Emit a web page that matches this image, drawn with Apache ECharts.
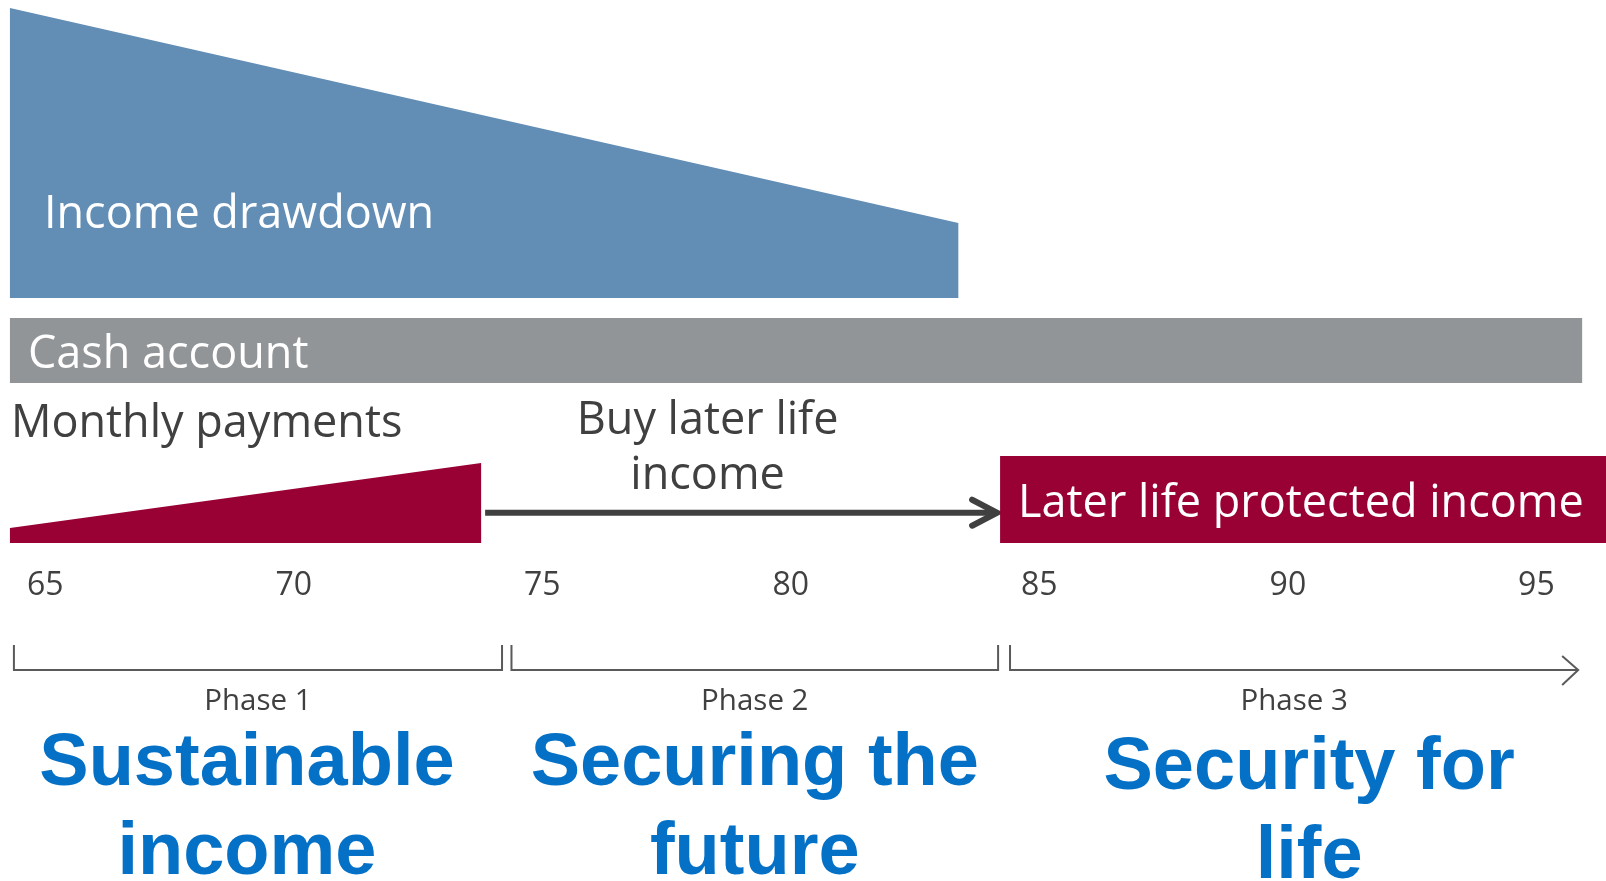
<!DOCTYPE html>
<html><head><meta charset="utf-8">
<script src="https://cdn.jsdelivr.net/npm/echarts@6/dist/echarts.min.js"></script>
<style>html,body{margin:0;padding:0;background:#fff}#c{width:1606px;height:881px}</style>
</head><body><div id="c"></div>
<script>
// ---- data (ages on the horizontal axis, relative levels on the vertical) ----
const ageTicks = [65, 70, 75, 80, 85, 90, 95];
const axisRange = [64.09, 96.40];
const drawdownAges = [64.29, 83.37];
const drawdownLevels = [100, 25.9];
const cashAges = [64.29, 95.92];
const paymentAges = [64.29, 73.77];
const paymentLevels = [17.2, 92];
const buyArrowAges = [73.85, 84.17];
const buyArrowLevel = 34.8;
const protectedAges = [84.21, 96.6];
const phaseStarts = [64.37, 74.38, 84.41];
const phaseEnds = [74.19, 84.17, 95.84];
const phaseNames = ['Phase 1', 'Phase 2', 'Phase 3'];
const phaseTitles = [['Sustainable', 'income'], ['Securing the', 'future'], ['Security for', 'life']];

const DARK = '#404040';
const BODY = '"Open Sans", "Noto Sans", sans-serif';
const BOLD = '"Liberation Sans", Arial, sans-serif';
const BIG = '45px ' + BODY;

const chart = echarts.init(document.getElementById('c'), null, {renderer: 'canvas'});

function xAxisBase(gi) {
  return {type: 'value', gridIndex: gi, min: axisRange[0], max: axisRange[1], show: false};
}
function yAxisBase(gi, max) {
  return {type: 'value', gridIndex: gi, min: 0, max: max, show: false};
}

const xAxes = [xAxisBase(0), xAxisBase(1), xAxisBase(2), xAxisBase(3)];
xAxes[2] = {
  type: 'value', gridIndex: 2, min: axisRange[0], max: axisRange[1], show: true,
  axisLine: {show: false}, axisTick: {show: false}, splitLine: {show: false},
  axisLabel: {
    customValues: ageTicks, margin: 27, color: DARK, fontSize: 32, lineHeight: 32,
    fontFamily: BODY, showMinLabel: true, showMaxLabel: true
  }
};

const option = {
  backgroundColor: '#ffffff',
  animation: false,
  grid: [
    {left: 0, right: 0, top: 8, height: 290},
    {left: 0, right: 0, top: 318, height: 65},
    {left: 0, right: 0, top: 456, height: 87},
    {left: 0, right: 0, top: 645, height: 25}
  ],
  xAxis: xAxes,
  yAxis: [yAxisBase(0, 100), yAxisBase(1, 1), yAxisBase(2, 100), yAxisBase(3, 1)],
  series: [
    // Income drawdown wedge
    {
      type: 'custom', xAxisIndex: 0, yAxisIndex: 0, silent: true,
      data: [[drawdownAges[0], drawdownLevels[0], drawdownAges[1], drawdownLevels[1]]],
      encode: {x: [0, 2], y: [1, 3]},
      renderItem: function (params, api) {
        const a0 = api.value(0), l0 = api.value(1), a1 = api.value(2), l1 = api.value(3);
        const pA = api.coord([a0, 0]), pB = api.coord([a0, l0]), pC = api.coord([a1, l1]), pD = api.coord([a1, 0]);
        return {type: 'group', children: [
          {type: 'polygon', shape: {points: [pA, pB, pC, pD]}, style: {fill: '#628db5'}},
          {type: 'text', x: pA[0] + 34, y: pA[1] - 82.5,
           style: {text: 'Income drawdown', fill: '#ffffff', font: BIG, verticalAlign: 'middle'}}
        ]};
      }
    },
    // Cash account bar
    {
      type: 'custom', xAxisIndex: 1, yAxisIndex: 1, silent: true,
      data: [[cashAges[0], cashAges[1]]],
      encode: {x: [0, 1]},
      renderItem: function (params, api) {
        const p0 = api.coord([api.value(0), 1]), p1 = api.coord([api.value(1), 0]);
        return {type: 'group', children: [
          {type: 'rect', shape: {x: p0[0], y: p0[1], width: p1[0] - p0[0], height: p1[1] - p0[1]}, style: {fill: '#919598'}},
          {type: 'text', x: p0[0] + 18, y: p1[1] - 28,
           style: {text: 'Cash account', fill: '#ffffff', font: BIG, verticalAlign: 'middle'}}
        ]};
      }
    },
    // Monthly payments wedge
    {
      type: 'custom', xAxisIndex: 2, yAxisIndex: 2, silent: true,
      data: [[paymentAges[0], paymentLevels[0], paymentAges[1], paymentLevels[1]]],
      encode: {x: [0, 2], y: [1, 3]},
      renderItem: function (params, api) {
        const a0 = api.value(0), l0 = api.value(1), a1 = api.value(2), l1 = api.value(3);
        const pA = api.coord([a0, 0]), pB = api.coord([a0, l0]), pC = api.coord([a1, l1]), pD = api.coord([a1, 0]);
        return {type: 'group', children: [
          {type: 'polygon', shape: {points: [pA, pB, pC, pD]}, style: {fill: '#990033'}},
          {type: 'text', x: pA[0] + 1, y: pA[1] - 119,
           style: {text: 'Monthly payments', fill: DARK, font: BIG, verticalAlign: 'middle'}}
        ]};
      }
    },
    // Buy later life income arrow
    {
      type: 'custom', xAxisIndex: 2, yAxisIndex: 2, silent: true,
      data: [[buyArrowAges[0], buyArrowLevel, buyArrowAges[1]]],
      encode: {x: [0, 2], y: 1},
      renderItem: function (params, api) {
        const p0 = api.coord([api.value(0), api.value(1)]);
        const p1 = api.coord([api.value(2), api.value(1)]);
        const mid = (p0[0] + p1[0]) / 2 - 34;
        return {type: 'group', children: [
          {type: 'line', shape: {x1: p0[0], y1: p0[1], x2: p1[0] - 3, y2: p1[1]},
           style: {stroke: DARK, lineWidth: 6}},
          {type: 'polyline', shape: {points: [[p1[0] - 26, p1[1] - 13], [p1[0] - 1, p1[1]], [p1[0] - 26, p1[1] + 13]]},
           style: {stroke: DARK, lineWidth: 6, fill: null, lineCap: 'round', lineJoin: 'miter'}},
          {type: 'text', x: mid, y: p0[1] - 91.7,
           style: {text: 'Buy later life', fill: DARK, font: BIG, align: 'center', verticalAlign: 'middle'}},
          {type: 'text', x: mid, y: p0[1] - 36.2,
           style: {text: 'income', fill: DARK, font: BIG, align: 'center', verticalAlign: 'middle'}}
        ]};
      }
    },
    // Later life protected income block
    {
      type: 'custom', xAxisIndex: 2, yAxisIndex: 2, silent: true,
      data: [[protectedAges[0], protectedAges[1]]],
      encode: {x: [0, 1]},
      renderItem: function (params, api) {
        const p0 = api.coord([api.value(0), 100]), p1 = api.coord([api.value(1), 0]);
        return {type: 'group', children: [
          {type: 'rect', shape: {x: p0[0], y: p0[1], width: p1[0] - p0[0], height: p1[1] - p0[1]}, style: {fill: '#990033'}},
          {type: 'text', x: p0[0] + 18, y: p1[1] - 39,
           style: {text: 'Later life protected income', fill: '#ffffff', font: BIG, verticalAlign: 'middle'}}
        ]};
      }
    },
    // Phase brackets, phase names and titles
    {
      type: 'custom', xAxisIndex: 3, yAxisIndex: 3, silent: true,
      data: phaseStarts.map(function (s, i) { return [s, phaseEnds[i], i]; }),
      encode: {x: [0, 1]},
      renderItem: function (params, api) {
        const s = api.value(0), e = api.value(1), i = api.value(2);
        const last = i === phaseStarts.length - 1;
        const titleDx = [-11, 0, 15][i];
        const titleDy = [0, 0, 4][i];
        const pts = last
          ? [api.coord([s, 1]), api.coord([s, 0]), api.coord([e, 0])]
          : [api.coord([s, 1]), api.coord([s, 0]), api.coord([e, 0]), api.coord([e, 1])];
        const base = api.coord([s, 0])[1];
        const cx = api.coord([(s + e) / 2, 0])[0];
        const children = [
          {type: 'polyline', shape: {points: pts}, style: {stroke: '#5a5a5a', lineWidth: 2, fill: null}},
          {type: 'text', x: cx, y: base + 31.4,
           style: {text: phaseNames[i], fill: DARK, font: '29.5px ' + BODY, align: 'center', verticalAlign: 'middle'}},
          {type: 'text', x: cx + titleDx, y: base + 95 + titleDy,
           style: {text: phaseTitles[i][0], fill: '#0571c6', font: 'bold 74px ' + BOLD, align: 'center', verticalAlign: 'middle'}},
          {type: 'text', x: cx + titleDx, y: base + 184 + titleDy,
           style: {text: phaseTitles[i][1], fill: '#0571c6', font: 'bold 74px ' + BOLD, align: 'center', verticalAlign: 'middle'}}
        ];
        if (last) {
          const tip = api.coord([e, 0]);
          children.push({type: 'polyline',
            shape: {points: [[tip[0] - 16, tip[1] - 14], [tip[0], tip[1]], [tip[0] - 16, tip[1] + 15]]},
            style: {stroke: '#5a5a5a', lineWidth: 2, fill: null}});
        }
        return {type: 'group', children: children};
      }
    }
  ]
};
chart.setOption(option);
</script>
</body></html>
